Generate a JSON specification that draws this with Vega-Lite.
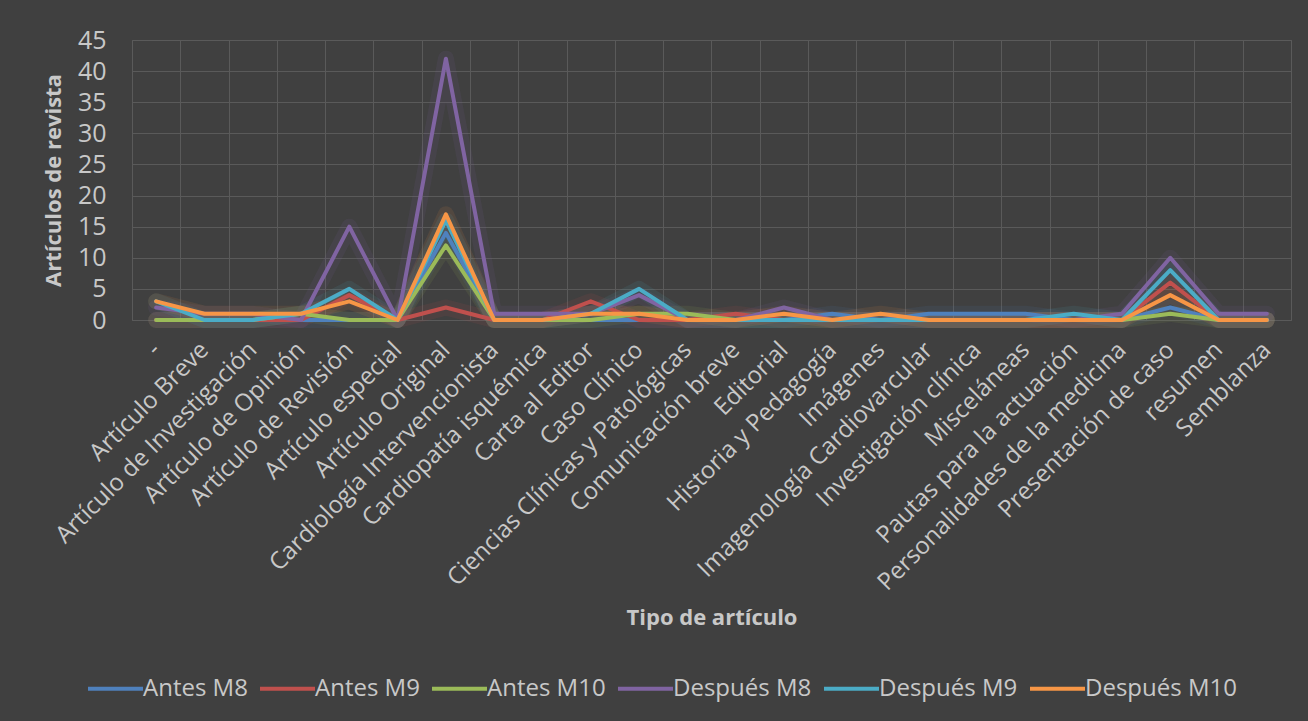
{
  "$schema": "https://vega.github.io/schema/vega-lite/v6.json",
  "width": 1159,
  "height": 280,
  "autosize": {"type": "none"},
  "padding": {"left": 132, "top": 40, "right": 17, "bottom": 401},
  "background": "#404040",
  "config": {
    "font": "Open Sans",
    "view": {"stroke": "#5a5a5a", "strokeWidth": 1}
  },
  "data": {
    "values": [
      {"tipo": "-", "Antes M8": 0, "Antes M9": 0, "Antes M10": 0, "Después M8": 2, "Después M9": 3, "Después M10": 3},
      {"tipo": "Artículo Breve", "Antes M8": 0, "Antes M9": 0, "Antes M10": 0, "Después M8": 1, "Después M9": 0, "Después M10": 1},
      {"tipo": "Artículo de Investigación", "Antes M8": 0, "Antes M9": 0, "Antes M10": 0, "Después M8": 1, "Después M9": 0, "Después M10": 1},
      {"tipo": "Artículo de Opinión", "Antes M8": 0, "Antes M9": 0, "Antes M10": 1, "Después M8": 0, "Después M9": 1, "Después M10": 1},
      {"tipo": "Artículo de Revisión", "Antes M8": 0, "Antes M9": 4, "Antes M10": 0, "Después M8": 15, "Después M9": 5, "Después M10": 3},
      {"tipo": "Artículo especial", "Antes M8": 0, "Antes M9": 0, "Antes M10": 0, "Después M8": 0, "Después M9": 0, "Después M10": 0},
      {"tipo": "Artículo Original", "Antes M8": 14, "Antes M9": 2, "Antes M10": 12, "Después M8": 42, "Después M9": 16, "Después M10": 17},
      {"tipo": "Cardiología Intervencionista", "Antes M8": 0, "Antes M9": 0, "Antes M10": 0, "Después M8": 1, "Después M9": 0, "Después M10": 0},
      {"tipo": "Cardiopatía isquémica", "Antes M8": 0, "Antes M9": 0, "Antes M10": 0, "Después M8": 1, "Después M9": 0, "Después M10": 0},
      {"tipo": "Carta al Editor", "Antes M8": 0, "Antes M9": 3, "Antes M10": 0, "Después M8": 1, "Después M9": 1, "Después M10": 1},
      {"tipo": "Caso Clínico", "Antes M8": 0, "Antes M9": 0, "Antes M10": 1, "Después M8": 4, "Después M9": 5, "Después M10": 1},
      {"tipo": "Ciencias Clínicas y Patológicas", "Antes M8": 0, "Antes M9": 0, "Antes M10": 1, "Después M8": 0, "Después M9": 0, "Después M10": 0},
      {"tipo": "Comunicación breve", "Antes M8": 0, "Antes M9": 1, "Antes M10": 0, "Después M8": 0, "Después M9": 0, "Después M10": 0},
      {"tipo": "Editorial", "Antes M8": 0, "Antes M9": 0, "Antes M10": 0, "Después M8": 2, "Después M9": 0, "Después M10": 1},
      {"tipo": "Historia y Pedagogía", "Antes M8": 1, "Antes M9": 0, "Antes M10": 0, "Después M8": 0, "Después M9": 0, "Después M10": 0},
      {"tipo": "Imágenes", "Antes M8": 0, "Antes M9": 0, "Antes M10": 0, "Después M8": 0, "Después M9": 0, "Después M10": 1},
      {"tipo": "Imagenología Cardiovarcular", "Antes M8": 1, "Antes M9": 0, "Antes M10": 0, "Después M8": 0, "Después M9": 0, "Después M10": 0},
      {"tipo": "Investigación clínica", "Antes M8": 1, "Antes M9": 0, "Antes M10": 0, "Después M8": 0, "Después M9": 0, "Después M10": 0},
      {"tipo": "Misceláneas", "Antes M8": 1, "Antes M9": 0, "Antes M10": 0, "Después M8": 0, "Después M9": 0, "Después M10": 0},
      {"tipo": "Pautas para la actuación", "Antes M8": 0, "Antes M9": 0, "Antes M10": 0, "Después M8": 0, "Después M9": 1, "Después M10": 0},
      {"tipo": "Personalidades de la medicina", "Antes M8": 0, "Antes M9": 0, "Antes M10": 0, "Después M8": 1, "Después M9": 0, "Después M10": 0},
      {"tipo": "Presentación de caso", "Antes M8": 2, "Antes M9": 6, "Antes M10": 1, "Después M8": 10, "Después M9": 8, "Después M10": 4},
      {"tipo": "resumen", "Antes M8": 0, "Antes M9": 0, "Antes M10": 0, "Después M8": 1, "Después M9": 0, "Después M10": 0},
      {"tipo": "Semblanza", "Antes M8": 0, "Antes M9": 0, "Antes M10": 0, "Después M8": 1, "Después M9": 0, "Después M10": 0}
    ]
  },
  "transform": [
    {"fold": ["Antes M8", "Antes M9", "Antes M10", "Después M8", "Después M9", "Después M10"], "as": ["serie", "valor"]}
  ],
  "encoding": {
    "x": {
      "field": "tipo",
      "type": "nominal",
      "sort": null,
      "bandPosition": 0.5,
      "scale": {"type": "band", "paddingInner": 0, "paddingOuter": 0},
      "axis": {
        "tickBand": "extent",
        "grid": true,
        "gridColor": "#5a5a5a",
        "gridWidth": 1,
        "domain": false,
        "ticks": false,
        "tickSize": 0,
        "labelAngle": -45,
        "labelAlign": "right",
        "labelBaseline": "middle",
        "labelFontSize": 24,
        "labelColor": "#c8c8c8",
        "labelPadding": 26,
        "labelLimit": 500,
        "labelOverlap": false,
        "title": "Tipo de artículo",
        "titleFontSize": 22,
        "titleFontWeight": "bold",
        "titleColor": "#c8c8c8",
        "titleY": 287,
        "titleBaseline": "top"
      }
    },
    "y": {
      "field": "valor",
      "type": "quantitative",
      "scale": {"domain": [0, 45], "nice": false},
      "axis": {
        "values": [0, 5, 10, 15, 20, 25, 30, 35, 40, 45],
        "grid": true,
        "gridColor": "#5a5a5a",
        "gridWidth": 1,
        "domain": false,
        "ticks": false,
        "tickSize": 0,
        "labelFontSize": 25,
        "labelColor": "#c8c8c8",
        "labelPadding": 26,
        "title": "Artículos de revista",
        "titleFontSize": 22,
        "titleFontWeight": "bold",
        "titleColor": "#c8c8c8",
        "titlePadding": 12
      }
    },
    "color": {
      "field": "serie",
      "type": "nominal",
      "sort": ["Antes M8", "Antes M9", "Antes M10", "Después M8", "Después M9", "Después M10"],
      "scale": {
        "domain": ["Antes M8", "Antes M9", "Antes M10", "Después M8", "Después M9", "Después M10"],
        "range": ["#4F81BD", "#C0504D", "#9BBB59", "#8064A2", "#4BACC6", "#F79646"]
      },
      "legend": {
        "title": null,
        "orient": "none",
        "direction": "horizontal",
        "legendX": -46,
        "legendY": 619,
        "symbolType": "stroke",
        "symbolSize": 3025,
        "symbolStrokeWidth": 4,
        "symbolOpacity": 1,
        "labelFontSize": 24,
        "labelColor": "#c8c8c8",
        "labelOffset": -2,
        "columnPadding": 4,
        "labelLimit": 300
      }
    }
  },
  "layer": [
    {"mark": {"type": "line", "strokeWidth": 16, "opacity": 0.1, "strokeJoin": "round", "strokeCap": "round"}},
    {"mark": {"type": "line", "strokeWidth": 4, "strokeJoin": "round", "strokeCap": "round"}}
  ]
}
